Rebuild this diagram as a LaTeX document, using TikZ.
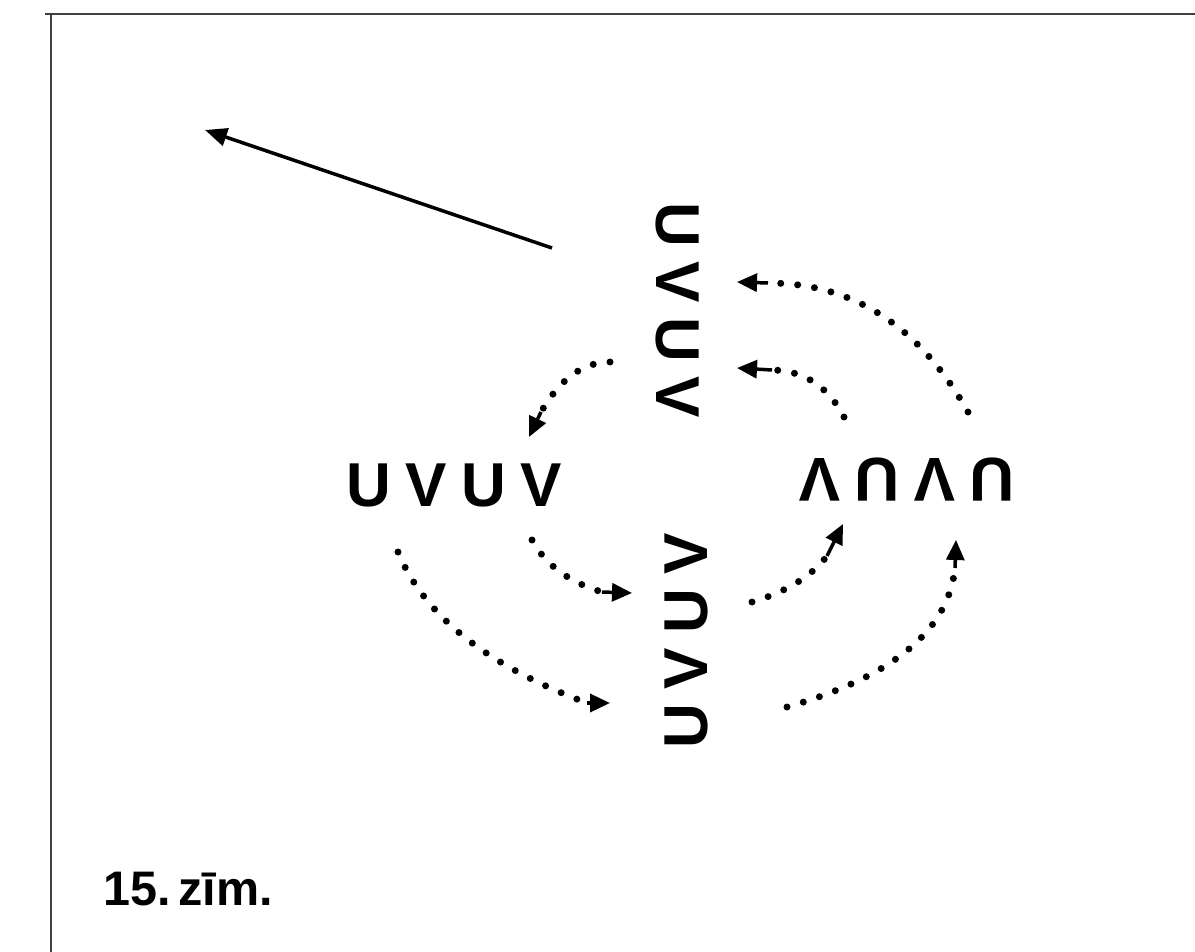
\documentclass[tikz,border=0pt]{standalone}
\usepackage{fontspec}
\setmainfont{Liberation Sans}
\usetikzlibrary{arrows.meta,calc}

\begin{document}
\begin{tikzpicture}[
  x=1pt, y=-1pt,
  letter/.style={inner sep=0pt, font=\bfseries\fontsize{62}{62}\selectfont},
  dotline/.style={line width=7pt, line cap=round, dash pattern=on 0pt off 17pt},
  tipline/.style={line width=3.5pt, -{Triangle[length=20pt, width=18pt]}},
  frame/.style={line width=2pt, draw=black!75},
]
  \useasboundingbox (0,0) rectangle (1195,952);

  % frame lines
  \draw[frame] (45,14) -- (1195,14);
  \draw[frame] (51,14) -- (51,952);

  % the four words, node names: L1..L4, T1..T4, R1..R4, B1..B4
  \foreach \w/\cx/\cy/\ang in {L/455/485/0, T/678/311/-90, R/906/480/180, B/686/640/90} {
    \begin{scope}[shift={(\cx,\cy)}, rotate=\ang, transform shape]
      \foreach \ch [count=\i] in {U,V,U,V}
        \node[letter] (\w\i) at ({(\i-2.5)*57.7},0) {\ch};
    \end{scope}
  }

  % dotted arcs: s = start, c = bend, m = start of the stub, t = tip
  \foreach \i/\sx/\sy/\cx/\cy/\mx/\my/\tx/\ty in {
    1/968/412/895/283/768/283/737/282,
    2/844/417/820/371/772/370/737/368,
    3/610/362/570/362/541/412/529/437,
    4/532/540/552/577/602/592/632/593,
    5/398/552/437/647/587/703/610/703,
    6/752/602/803/587/827/556/843/524,
    7/787/707/945/662/955/568/956/540} {
    \path (\sx,\sy) coordinate (s\i) (\cx,\cy) coordinate (c\i)
          (\mx,\my) coordinate (m\i) (\tx,\ty) coordinate (t\i);
  }
  \foreach \i in {1,...,7} {
    \draw[dotline] (s\i) .. controls ($(s\i)!0.667!(c\i)$) and ($(m\i)!0.667!(c\i)$) .. (m\i);
    \draw[tipline] (m\i) -- (t\i);
  }

  % long arrow
  \coordinate (p0) at (552,248);
  \coordinate (p1) at (205,130);
  \draw[line width=3.5pt, -{Triangle[length=22pt, width=18pt]}] (p0) -- (p1);

  % caption
  \node[anchor=base west, inner sep=0pt, font=\bfseries\fontsize{48.5}{50}\selectfont]
    (caption) at (103,905) {15.\,zīm.};
\end{tikzpicture}
\end{document}
